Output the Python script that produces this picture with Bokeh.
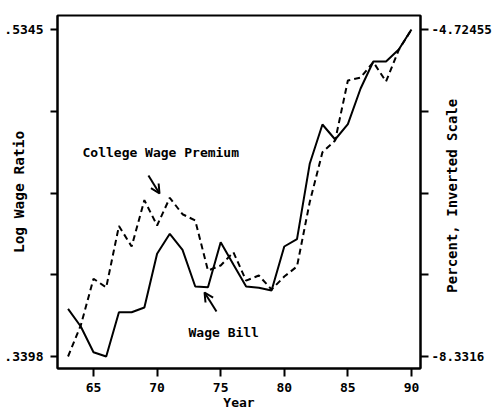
import math
from bokeh.plotting import figure
from bokeh.models import Range1d, LinearAxis, FixedTicker, Label, Arrow, OpenHead
from bokeh.embed import file_html
from bokeh.resources import INLINE

# ---- data ----
years = [63, 64, 65, 66, 67, 68, 69, 70, 71, 72, 73, 74, 75, 76, 77,
         78, 79, 80, 81, 82, 83, 84, 85, 86, 87, 88, 89, 90]
college_premium = [0.3398, 0.3583, 0.3861, 0.3809, 0.4175, 0.4053, 0.4329,
                   0.4178, 0.4343, 0.4245, 0.4208, 0.3910, 0.3940, 0.4019,
                   0.3850, 0.3880, 0.3797, 0.3874, 0.3934, 0.4317, 0.4614,
                   0.4684, 0.5041, 0.5059, 0.5151, 0.5035, 0.5223, 0.5345]
wage_bill = [-7.8054, -8.0007, -8.2843, -8.3316, -7.8429, -7.8429, -7.7912,
             -7.1987, -6.9782, -7.1546, -7.5594, -7.5672, -7.0709, -7.3169,
             -7.5594, -7.5738, -7.6036, -7.1182, -7.0377, -6.2060, -5.7724,
             -5.9380, -5.7692, -5.3752, -5.0777, -5.0777, -4.9452, -4.72455]
x_ticks = [65, 70, 75, 80, 85, 90]
left_tick_labels = [".3398", "", "", "", ".5345"]
right_tick_labels = ["-8.3316", "", "", "", "-4.72455"]

FONT = "DejaVu Sans Mono"
FS = "13px"
STYLE = "bold"

lo, hi = min(college_premium), max(college_premium)
rlo, rhi = min(wage_bill), max(wage_bill)
left_ticks = [lo + i * (hi - lo) / 4 for i in range(5)]
right_ticks = [rlo + i * (rhi - rlo) / 4 for i in range(5)]
pad_b, pad_t = 12 / 327, 14 / 327

p = figure(width=494, height=412, output_backend="svg", toolbar_location=None,
           x_range=Range1d(62.17, 90.71),
           y_range=Range1d(lo - pad_b * (hi - lo), hi + pad_t * (hi - lo)),
           min_border_left=57, min_border_right=74, min_border_top=15,
           min_border_bottom=44)
p.extra_y_ranges = {
    "right": Range1d(rlo - pad_b * (rhi - rlo), rhi + pad_t * (rhi - rlo)),
}

p.grid.visible = False
p.outline_line_color = "black"
p.outline_line_width = 2
p.background_fill_color = "white"
p.border_fill_color = "white"

def style_axis(ax, size=FS):
    ax.axis_line_width = 2
    ax.axis_line_color = "black"
    ax.major_tick_line_width = 2
    ax.major_tick_line_color = "black"
    ax.major_tick_in = 0
    ax.major_tick_out = 7
    ax.minor_tick_line_color = None
    ax.major_label_text_font = FONT
    ax.major_label_text_font_size = size
    ax.major_label_text_font_style = STYLE
    ax.major_label_text_color = "black"
    ax.axis_label_text_font = FONT
    ax.axis_label_text_font_style = STYLE
    ax.axis_label_text_color = "black"

xa = p.xaxis[0]
style_axis(xa)
xa.ticker = FixedTicker(ticks=x_ticks)
xa.major_label_standoff = 6
xa.major_tick_out = 8
xa.axis_label = "Year"
xa.axis_label_text_font_size = FS
xa.axis_label_standoff = 0

ya = p.yaxis[0]
style_axis(ya)
ya.ticker = FixedTicker(ticks=left_ticks)
ya.major_label_overrides = dict(zip(left_ticks, left_tick_labels))
ya.major_label_standoff = 7
ya.axis_label = "Log Wage Ratio"
ya.axis_label_text_font_size = "14.5px"
ya.axis_label_standoff = -26

rax = LinearAxis(y_range_name="right", ticker=FixedTicker(ticks=right_ticks),
                 major_label_overrides=dict(zip(right_ticks, right_tick_labels)))
style_axis(rax, "12.5px")
rax.major_tick_out = 8
rax.major_label_standoff = 3
# title reads bottom-to-top, anchored at the lower end of the axis
rax.axis_label = "\u00a0" * 9 + "Percent, Inverted Scale"
rax.axis_label_text_font_size = "14px"
rax.axis_label_standoff = -43
rax.axis_label_orientation = math.pi / 2
rax.axis_label_align = "start"
p.add_layout(rax, "right")

p.line(years, college_premium, line_color="black", line_width=2, line_dash="6 4")
p.line(years, wage_bill, line_color="black", line_width=2, y_range_name="right")

p.add_layout(Label(x=64.135, y=0.46126, text="College Wage Premium",
                   text_font=FONT, text_font_size=FS, text_font_style=STYLE,
                   text_color="black", text_baseline="middle", text_align="left"))
p.add_layout(Label(x=72.47, y=0.35409, text="Wage Bill",
                   text_font=FONT, text_font_size=FS, text_font_style=STYLE,
                   text_color="black", text_baseline="middle", text_align="left"))
p.add_layout(Arrow(end=OpenHead(size=9, line_width=2), line_width=2,
                   x_start=69.32, y_start=0.44757, x_end=70.19, y_end=0.43685))
p.add_layout(Arrow(end=OpenHead(size=9, line_width=2), line_width=2,
                   x_start=74.67, y_start=0.36659, x_end=73.73, y_end=0.37791))

open("out.html", "w").write(file_html(p, INLINE))
